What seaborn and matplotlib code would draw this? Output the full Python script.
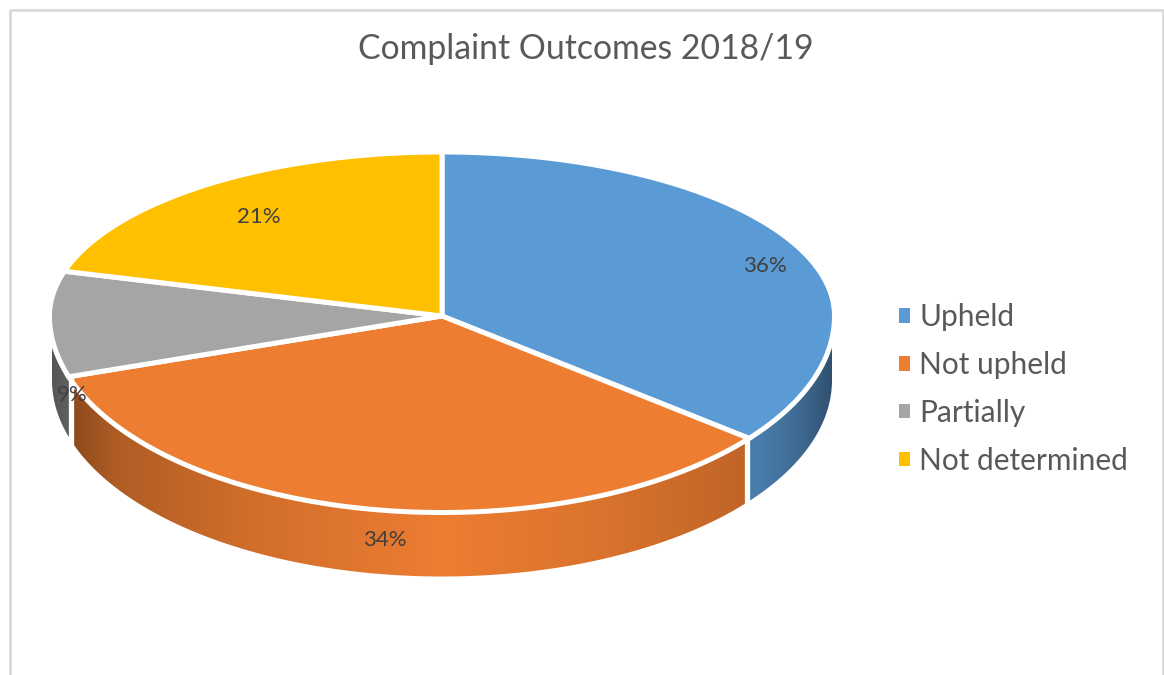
import numpy as np
import seaborn as sns
import matplotlib.pyplot as plt
from matplotlib.patches import Patch, Polygon

# values (labels only show whole percents)
outcomes = ['Upheld', 'Not upheld', 'Partially', 'Not determined']
shares = [35.7, 34.3, 9.4, 20.6]
colors = sns.color_palette(['#5B9BD5', '#ED7D31', '#A5A5A5', '#FFC000'])
label_xy = [(765, 266), (385, 540), (72, 395), (259, 217)]

sns.set_theme(style='white')
plt.rcParams['font.family'] = ['Lato', 'DejaVu Sans']

# pie geometry in image pixels
cx, cy = 442, 316
rx = 392.5
rx_wall = 390
ry_back, ry_front = 164, 196.5
depth = 64
# shading of the side wall along x
shade_x = [52, 74, 115, 250, 442, 600, 743, 760, 800, 832]
shade_f = [0.52, 0.60, 0.74, 0.88, 1.0, 0.92, 0.81, 0.80, 0.68, 0.52]


def rim(t, r=rx):
    ry = np.where(np.sin(t) > 0, ry_back, ry_front)
    return cx + r * np.cos(t), cy - ry * np.sin(t)


fig = plt.figure(figsize=(11.64, 6.75), dpi=100)
ax = fig.add_axes([0, 0, 1, 1])

# slice boundaries, clockwise from 12 o'clock
ends = np.cumsum(shares) / np.sum(shares)
starts = np.r_[0, ends[:-1]]
t0 = np.pi / 2 - 2 * np.pi * starts
t1 = np.pi / 2 - 2 * np.pi * ends

# side walls first, only the part of the rim facing the viewer
for a, b, col in zip(t0, t1, colors):
    lo, hi = max(b, -np.pi), min(a, 0)
    if lo >= hi:
        continue
    t = np.linspace(hi, lo, 150)
    x_top, y_top = rim(t, rx_wall)
    x_bot, y_bot = rim(t, rx_wall)
    y_top = np.maximum(y_top, cy + 32)
    poly = Polygon(np.r_[np.c_[x_top, y_top], np.c_[x_bot, y_bot + depth][::-1]],
                   closed=True, fc='none', ec='none')
    ax.add_patch(poly)
    xs = np.arange(40, 850)
    grad = np.interp(xs, shade_x, shade_f)[None, :, None] * np.array(col)[None, None, :]
    im = ax.imshow(grad, extent=(40, 850, 600, 300), aspect='auto', interpolation='bilinear')
    im.set_clip_path(poly)

# white seams between the walls
for a in t0:
    if -np.pi < a < 0:
        xb, yb = rim(np.array(a), rx_wall)
        ax.plot([xb, xb], [yb, yb + depth + 6], color='white', lw=3.8, solid_capstyle='butt')

# top surface
for a, b, col in zip(t0, t1, colors):
    t = np.linspace(a, b, 200)
    x, y = rim(t)
    ax.add_patch(Polygon(np.r_[[[cx, cy]], np.c_[x, y]], closed=True, fc=col,
                         ec='white', lw=3.6, joinstyle='miter'))

for val, (lx, ly) in zip(shares, label_xy):
    ax.text(lx, ly, f'{val:.0f}%', ha='center', va='center', fontsize=16, color='#404040')

ax.text(586, 49, 'Complaint Outcomes 2018/19', ha='center', va='center',
        fontsize=24.3, color='#595959')

# chart frame, the bottom edge is cut off in the picture
ax.plot([10, 10, 1162.5, 1162.5], [675, 9.5, 9.5, 675], color='#D9D9D9', lw=2)

handles = [Patch(fc=c, ec='none') for c in colors]
ax.legend(handles, outcomes, loc='center left', bbox_to_anchor=(899, 389),
          bbox_transform=ax.transData, frameon=False, fontsize=21.5,
          labelcolor='#595959', handlelength=0.37, handleheight=0.37,
          handletextpad=0.31, labelspacing=0.66, borderpad=0, borderaxespad=0)

ax.set_xlim(0, 1164)
ax.set_ylim(675, 0)
ax.axis('off')

fig.savefig('out.png', dpi=100, facecolor='white')
